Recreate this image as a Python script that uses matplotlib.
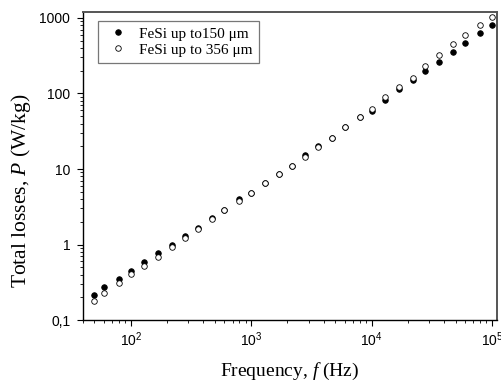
import matplotlib
matplotlib.use('Agg')
import numpy as np
import matplotlib.pyplot as plt
from matplotlib.ticker import LogLocator, NullFormatter

plt.rcParams['mathtext.fontset'] = 'custom'
plt.rcParams['mathtext.rm'] = 'Liberation Sans'
plt.rcParams['mathtext.it'] = 'Liberation Serif:italic'
plt.rcParams['font.family'] = 'Liberation Sans'

# frequency (Hz)
freq = [50, 60, 80, 100, 130, 170, 220, 280, 360, 470, 600, 800,
        1000, 1300, 1700, 2200, 2800, 3600, 4700, 6000, 8000,
        10000, 13000, 17000, 22000, 28000, 36000, 47000, 60000, 80000, 100000]

# total losses (W/kg)
loss_150 = [0.214, 0.274, 0.352, 0.446, 0.583, 0.767, 1.0, 1.28, 1.67, 2.26, 2.86, 3.98,
            4.88, 6.53, 8.66, 11.1, 15.3, 19.9, 26.1, 35.7, 48.1,
            59.0, 81.3, 113, 150, 200, 263, 356, 467, 637, 796]
loss_356 = [0.181, 0.231, 0.306, 0.401, 0.519, 0.694, 0.926, 1.22, 1.62, 2.16, 2.86, 3.77,
            4.88, 6.53, 8.66, 11.1, 14.6, 19.3, 26.1, 35.7, 48.1,
            62.9, 91.2, 121, 162, 233, 323, 450, 592, 796, 1021]

yticks = [0.1, 1, 10, 100, 1000]
ytick_labels = ['0,1', '1', '10', '100', '1000']

fig = plt.figure(figsize=(5.02, 3.81), dpi=100)
ax = fig.add_axes([0.165, 0.160, 0.825, 0.8085])

ax.plot(freq, loss_150, 'o', ms=4.0, mfc='black', mec='black', mew=0.6,
        label='FeSi up to150 μm')
ax.plot(freq, loss_356, 'o', ms=4.0, mfc='white', mec='black', mew=0.6,
        label='FeSi up to 356 μm')

ax.set_xscale('log')
ax.set_yscale('log')
ax.set_xlim(40, 1.1e5)
ax.set_ylim(0.1, 1200)

ax.set_yticks(yticks)
ax.set_yticklabels(ytick_labels)
ax.yaxis.set_minor_locator(LogLocator(base=10, subs=np.arange(2, 10)))
ax.yaxis.set_minor_formatter(NullFormatter())
ax.xaxis.set_minor_locator(LogLocator(base=10, subs=np.arange(2, 10)))
ax.xaxis.set_minor_formatter(NullFormatter())

ax.tick_params(which='major', direction='out', length=4, width=0.8, labelsize=10)
ax.tick_params(axis='y', which='major', pad=5)
ax.tick_params(which='minor', direction='out', length=2, width=0.6)

for s in ['left', 'bottom']:
    ax.spines[s].set_linewidth(1.0)
for s in ['top', 'right']:
    ax.spines[s].set_linewidth(1.4)
    ax.spines[s].set_color('#555555')

ax.set_xlabel(r'Frequency, $f$ (Hz)', family='Liberation Serif', fontsize=14)
ax.set_ylabel(r'Total losses, $P$ (W/kg)', family='Liberation Serif', fontsize=15.5)
ax.xaxis.set_label_coords(0.5, -0.133)
ax.yaxis.set_label_coords(-0.12, 0.42)

leg = ax.legend(loc='upper left', bbox_to_anchor=(0.037, 0.971), borderaxespad=0,
                fancybox=False, edgecolor='#777777', framealpha=1,
                prop={'family': 'Liberation Serif', 'size': 11},
                handletextpad=0.46, borderpad=0.4, labelspacing=0.15, handlelength=1.83)
leg.get_frame().set_linewidth(0.9)

fig.savefig('out.png', dpi=100)
